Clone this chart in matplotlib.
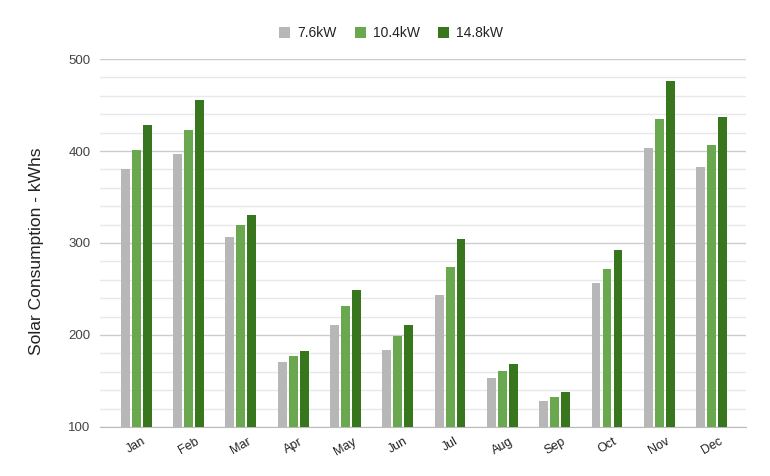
import matplotlib
matplotlib.use("Agg")
import matplotlib.pyplot as plt
import numpy as np

plt.rcParams['font.family'] = ['Liberation Sans', 'DejaVu Sans']

months = ['Jan', 'Feb', 'Mar', 'Apr', 'May', 'Jun',
          'Jul', 'Aug', 'Sep', 'Oct', 'Nov', 'Dec']
kw76 = [380, 397, 306, 171, 211, 184, 243, 153, 128, 257, 403, 383]
kw104 = [401, 423, 320, 177, 232, 199, 274, 161, 133, 272, 435, 406]
kw148 = [428, 455, 330, 183, 249, 211, 304, 169, 138, 292, 476, 437]

series = [('7.6kW', kw76, '#b7b7b7'),
          ('10.4kW', kw104, '#6aa84f'),
          ('14.8kW', kw148, '#38761d')]

fig = plt.figure(figsize=(7.7, 4.76), dpi=100)
ax = fig.add_axes([0.13, 0.103, 0.839, 0.773])

x = np.arange(len(months))
step = 0.21
width = 0.17
for i, (name, vals, col) in enumerate(series):
    ax.bar(x + (i - 1) * step, np.array(vals) - 100, width, bottom=100,
           color=col, label=name, zorder=3)

ax.set_ylim(100, 500)
ax.set_xlim(-0.69, 11.66)
ax.set_yticks([100, 200, 300, 400, 500])
ax.set_yticks(np.arange(100, 501, 20), minor=True)
ax.grid(axis='y', which='major', color='#cccccc', linewidth=1, zorder=0)
ax.grid(axis='y', which='minor', color='#e8e8e8', linewidth=1, zorder=0)
ax.tick_params(axis='y', which='both', length=0, labelsize=9.5, labelcolor='#444444', pad=7)
ax.tick_params(axis='x', length=0, labelsize=9, labelcolor='#222222', pad=6)
ax.set_xticks(x)
ax.set_xticklabels(months, rotation=30)
for s in ['top', 'right', 'left']:
    ax.spines[s].set_visible(False)
ax.spines['bottom'].set_color('#bbbbbb')

ax.set_ylabel('Solar Consumption - kWhs', fontsize=12.5, color='#222222')
ax.yaxis.set_label_coords(-0.087, 0.478)

fig.legend(loc='center', bbox_to_anchor=(0.508, 0.93), ncol=3, frameon=False,
           fontsize=10, handlelength=0.8, handleheight=0.8, columnspacing=1.3,
           handletextpad=0.5, labelcolor='#222222')

fig.savefig('out.png', dpi=100)
